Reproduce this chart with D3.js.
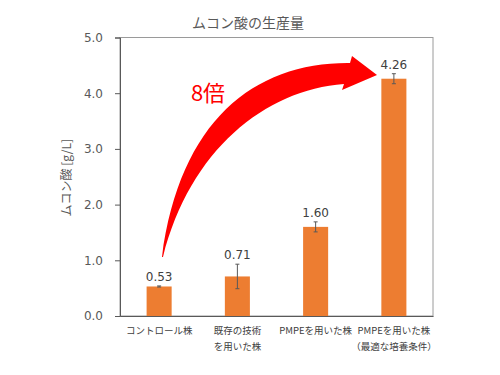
<!DOCTYPE html>
<html>
<head>
<meta charset="utf-8">
<script src="https://cdn.jsdelivr.net/npm/d3@7"></script>
<style>
  html, body { margin: 0; padding: 0; background: #fff; }
  svg { display: block; }
</style>
</head>
<body>
<div id="chart"></div>
<script>
// ---------- Data ----------
const categories = ['control', 'existing', 'pmpe', 'pmpeOpt'];
const categoryLines = [
  ['コントロール株'],
  ['既存の技術', 'を用いた株'],
  ['PMPEを用いた株'],
  ['PMPEを用いた株', '（最適な培養条件）']
];
const values = [0.53, 0.71, 1.60, 4.26];
const errors = [0.01, 0.22, 0.09, 0.09];
const yTicks = [0, 1, 2, 3, 4, 5];

const W = 500, H = 375;
const m = { t: 37.5, r: 67, b: 59, l: 120 };

const svg = d3.select('#chart').append('svg')
  .attr('width', W).attr('height', H)
  .attr('viewBox', [0, 0, W, H]);

const x = d3.scaleBand().domain(categories)
  .range([m.l, W - m.r]).paddingInner(0.68).paddingOuter(0.34);
const y = d3.scaleLinear().domain([0, 5]).range([H - m.b, m.t]);

// frame (top + right)
svg.append('rect')
  .attr('x', m.l).attr('y', m.t)
  .attr('width', W - m.r - m.l).attr('height', H - m.b - m.t)
  .attr('fill', 'none').attr('stroke', '#9a9a9a').attr('stroke-width', 1);

// bars
svg.append('g').selectAll('rect').data(values).join('rect')
  .attr('x', (d, i) => x(categories[i]))
  .attr('y', d => y(d))
  .attr('width', x.bandwidth())
  .attr('height', d => y(0) - y(d))
  .attr('fill', '#ED7D31');

// error bars
const eg = svg.append('g').attr('stroke', '#595959').attr('stroke-width', 1);
values.forEach((v, i) => {
  const cx = x(categories[i]) + x.bandwidth() / 2;
  eg.append('line').attr('x1', cx).attr('x2', cx)
    .attr('y1', y(v - errors[i])).attr('y2', y(v + errors[i]));
  [v - errors[i], v + errors[i]].forEach(e => {
    eg.append('line').attr('x1', cx - 2).attr('x2', cx + 2)
      .attr('y1', y(e)).attr('y2', y(e));
  });
});

// value labels
svg.append('g').selectAll('text').data(values).join('text')
  .attr('x', (d, i) => x(categories[i]) + x.bandwidth() / 2)
  .attr('y', (d, i) => y(d + errors[i]) - 5)
  .attr('text-anchor', 'middle')
  .attr('font-family', '"DejaVu Sans", sans-serif')
  .attr('font-size', 12)
  .attr('fill', '#404040')
  .text(d => d.toFixed(2));

// y axis
const yAxis = svg.append('g').attr('transform', `translate(${m.l},0)`)
  .call(d3.axisLeft(y).tickValues(yTicks).tickFormat(d3.format('.1f')).tickSize(5).tickPadding(12));
yAxis.select('.domain').attr('stroke', '#595959');
yAxis.selectAll('.tick line').attr('stroke', '#595959');
yAxis.selectAll('.tick text')
  .attr('font-family', '"DejaVu Sans", sans-serif')
  .attr('font-size', 12).attr('fill', '#595959');

// x axis
const xAxis = svg.append('g').attr('transform', `translate(0,${y(0)})`)
  .call(d3.axisBottom(x).tickSize(0).tickFormat(''));
xAxis.select('.domain').attr('stroke', '#595959');
xAxis.selectAll('.tick').each(function(d, i) {
  const t = d3.select(this).append('text')
    .attr('text-anchor', 'middle')
    .attr('font-family', '"Noto Sans CJK JP", sans-serif')
    .attr('font-size', 9.5)
    .attr('fill', '#404040');
  categoryLines[i].forEach((s, k) => {
    t.append('tspan').attr('x', 0).attr('y', 18 + k * 16).text(s);
  });
});

// title
svg.append('text')
  .attr('x', 248).attr('y', 28)
  .attr('text-anchor', 'middle')
  .attr('font-family', '"Noto Sans CJK JP", sans-serif')
  .attr('font-size', 14).attr('fill', '#595959')
  .text('ムコン酸の生産量');

// y title
svg.append('text')
  .attr('transform', `translate(71,${(y(0) + y(5)) / 2 + 1}) rotate(-90)`)
  .attr('text-anchor', 'middle')
  .attr('font-family', '"Noto Sans CJK JP", sans-serif')
  .attr('font-size', 12).attr('fill', '#595959')
  .text('ムコン酸 [g/L]');

// ---------- annotation arrow ----------
const p = d3.path();
p.moveTo(162, 257);
p.bezierCurveTo(180, 120, 255, 62, 350, 63);
p.lineTo(352, 56);
p.lineTo(377, 75);
p.lineTo(342, 90);
p.lineTo(344, 84);
p.bezierCurveTo(265, 90, 190, 150, 163, 257);
p.closePath();
svg.append('path').attr('d', p.toString()).attr('fill', '#FF0000');

svg.append('text')
  .attr('x', 208).attr('y', 101)
  .attr('text-anchor', 'middle')
  .attr('font-family', '"Noto Sans CJK JP", sans-serif')
  .attr('font-size', 22).attr('fill', '#FF0000')
  .text('8倍');
</script>
</body>
</html>
